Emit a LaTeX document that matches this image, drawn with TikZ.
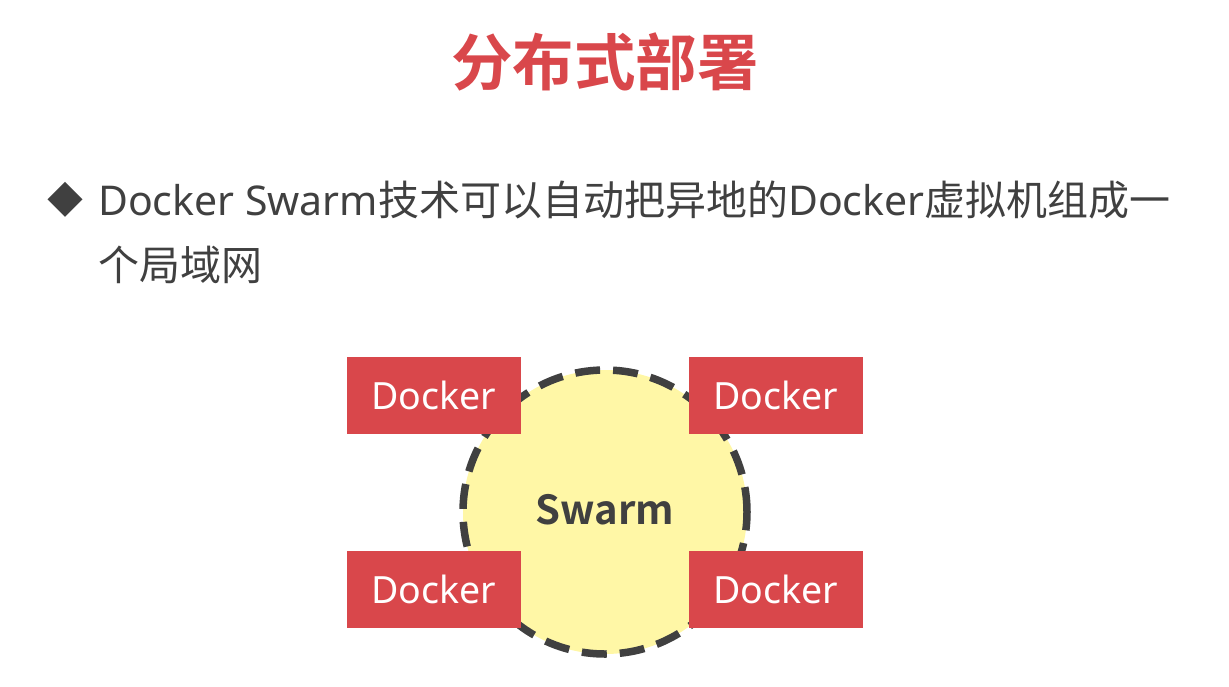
\documentclass[tikz,border=0pt]{standalone}
\usepackage{fontspec}
\newfontfamily\cjk{Noto Sans CJK SC}
\newfontfamily\cjkb{Noto Sans CJK SC Bold}
\newfontfamily\lat{Noto Sans}
\definecolor{dred}{HTML}{D9474B}
\definecolor{dgray}{HTML}{404040}
\definecolor{lyellow}{HTML}{FFF7A6}
\tikzset{
  dockerbox/.style={fill=dred, draw=dred, minimum width=173pt, minimum height=76pt, inner sep=0pt,
    text=white, font=\lat\fontsize{37.5}{44}\selectfont},
}
\begin{document}
\begin{tikzpicture}[x=1pt,y=-1pt]
\useasboundingbox (0,0) rectangle (1229,686);
\node (title) at (605,62) {\color{dred}\cjkb\fontsize{61.5}{70}\selectfont 分布式部署};
\node (bullet) at (65,200) {\color{dgray}\cjk\fontsize{36}{40}\selectfont ◆};
\node[anchor=west, inner sep=0pt, text=dgray, align=left] (line1) at (98,200)
  {\fontsize{41}{48}\selectfont{\lat Docker Swarm}{\cjk 技术可以自动把异地的}{\lat Docker}{\cjk 虚拟机组成一}};
\node[anchor=west, inner sep=0pt, text=dgray] (line2) at (98,265)
  {\fontsize{41}{48}\selectfont\cjk 个局域网};
\node[circle, minimum size=284pt, fill=lyellow, draw=dgray, line width=7.5pt, dash pattern=on 25pt off 13pt] (swarm) at (605,512) {};
\node[text=dgray, font=\cjkb\fontsize{40}{46}\selectfont] (swarmlbl) at (605,510) {Swarm};
\node[dockerbox] (d1) at (433.5,395) {Docker};
\node[dockerbox] (d2) at (775.5,395) {Docker};
\node[dockerbox] (d3) at (433.5,589) {Docker};
\node[dockerbox] (d4) at (775.5,589) {Docker};
\end{tikzpicture}
\end{document}
